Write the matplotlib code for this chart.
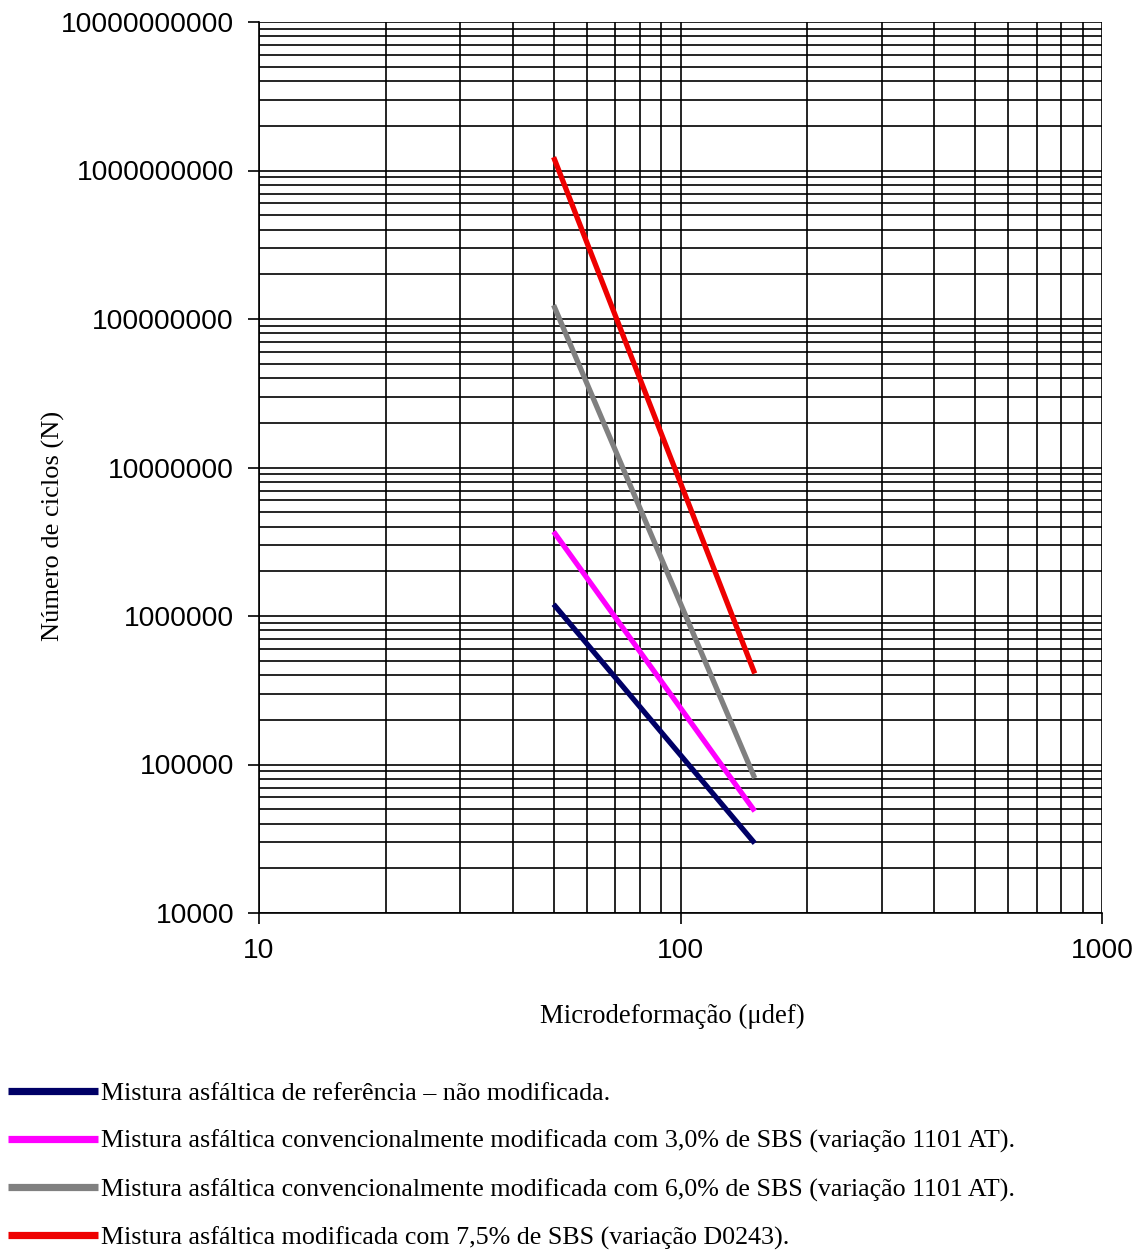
import matplotlib.pyplot as plt
from matplotlib.lines import Line2D

# deformação (microdef) e número de ciclos de cada mistura
x_ref = [50, 150]
n_ref = [1.2e6, 2.95e4]
x_sbs3 = [50, 150]
n_sbs3 = [3.7e6, 4.85e4]
x_sbs6 = [50, 150]
n_sbs6 = [1.24e8, 8.1e4]
x_d0243 = [50, 150]
n_d0243 = [1.23e9, 4.1e5]

labels = [
    "Mistura asfáltica de referência – não modificada.",
    "Mistura asfáltica convencionalmente modificada com 3,0% de SBS (variação 1101 AT).",
    "Mistura asfáltica convencionalmente modificada com 6,0% de SBS (variação 1101 AT).",
    "Mistura asfáltica modificada com 7,5% de SBS (variação D0243).",
]
colors = ["#000066", "#FF00FF", "#808080", "#EE0000"]

serif = ["Liberation Serif", "DejaVu Serif"]
sans = ["Liberation Sans", "DejaVu Sans"]

fig = plt.figure(figsize=(11.42, 12.52), dpi=100)
ax = fig.add_axes([259 / 1142, 1 - 913 / 1252, (1102 - 259) / 1142, (913 - 22) / 1252])

series = [(x_ref, n_ref), (x_sbs3, n_sbs3), (x_sbs6, n_sbs6), (x_d0243, n_d0243)]
for (xs, ys), c in zip(series, colors):
    ax.plot(xs, ys, color=c, lw=3.8, solid_capstyle="butt", zorder=3)

ax.set_xscale("log")
ax.set_yscale("log")
ax.set_xlim(10, 1000)
ax.set_ylim(1e4, 1e10)
ax.grid(True, which="both", color="black", lw=1.2)
ax.set_axisbelow(True)
for s in ["top", "right"]:
    ax.spines[s].set_visible(False)
for s in ["left", "bottom"]:
    ax.spines[s].set_linewidth(1.2)

ax.set_xticks([10, 100, 1000])
ax.set_xticklabels(["10", "100", "1000"])
yt = [1e4, 1e5, 1e6, 1e7, 1e8, 1e9, 1e10]
ax.set_yticks(yt)
ax.set_yticklabels([str(int(v)) for v in yt])
ax.tick_params(which="major", length=8, width=1.2, labelsize=20.3, pad=10)
ax.tick_params(which="minor", length=0)
for t in ax.get_xticklabels() + ax.get_yticklabels():
    t.set_family(sans)

fig.text(672 / 1142, 1 - 1016 / 1252, "Microdeformação (μdef)", family=serif,
         fontsize=19.3, ha="center", va="center")
fig.text(53 / 1142, 1 - 526 / 1252, "Número de ciclos (N)", family=serif,
         fontsize=19, ha="center", va="center", rotation=90)

handles = [Line2D([], [], color=c, lw=5.2, solid_capstyle="butt") for c in colors]
fig.legend(handles, labels, loc="upper left", bbox_to_anchor=(8 / 1142, 1 - 1082 / 1252),
           frameon=False, handlelength=3.45, handletextpad=0.15, labelspacing=0.95,
           prop={"family": serif, "size": 18.7}, borderaxespad=0, borderpad=0)

fig.savefig("out.png", dpi=100)
